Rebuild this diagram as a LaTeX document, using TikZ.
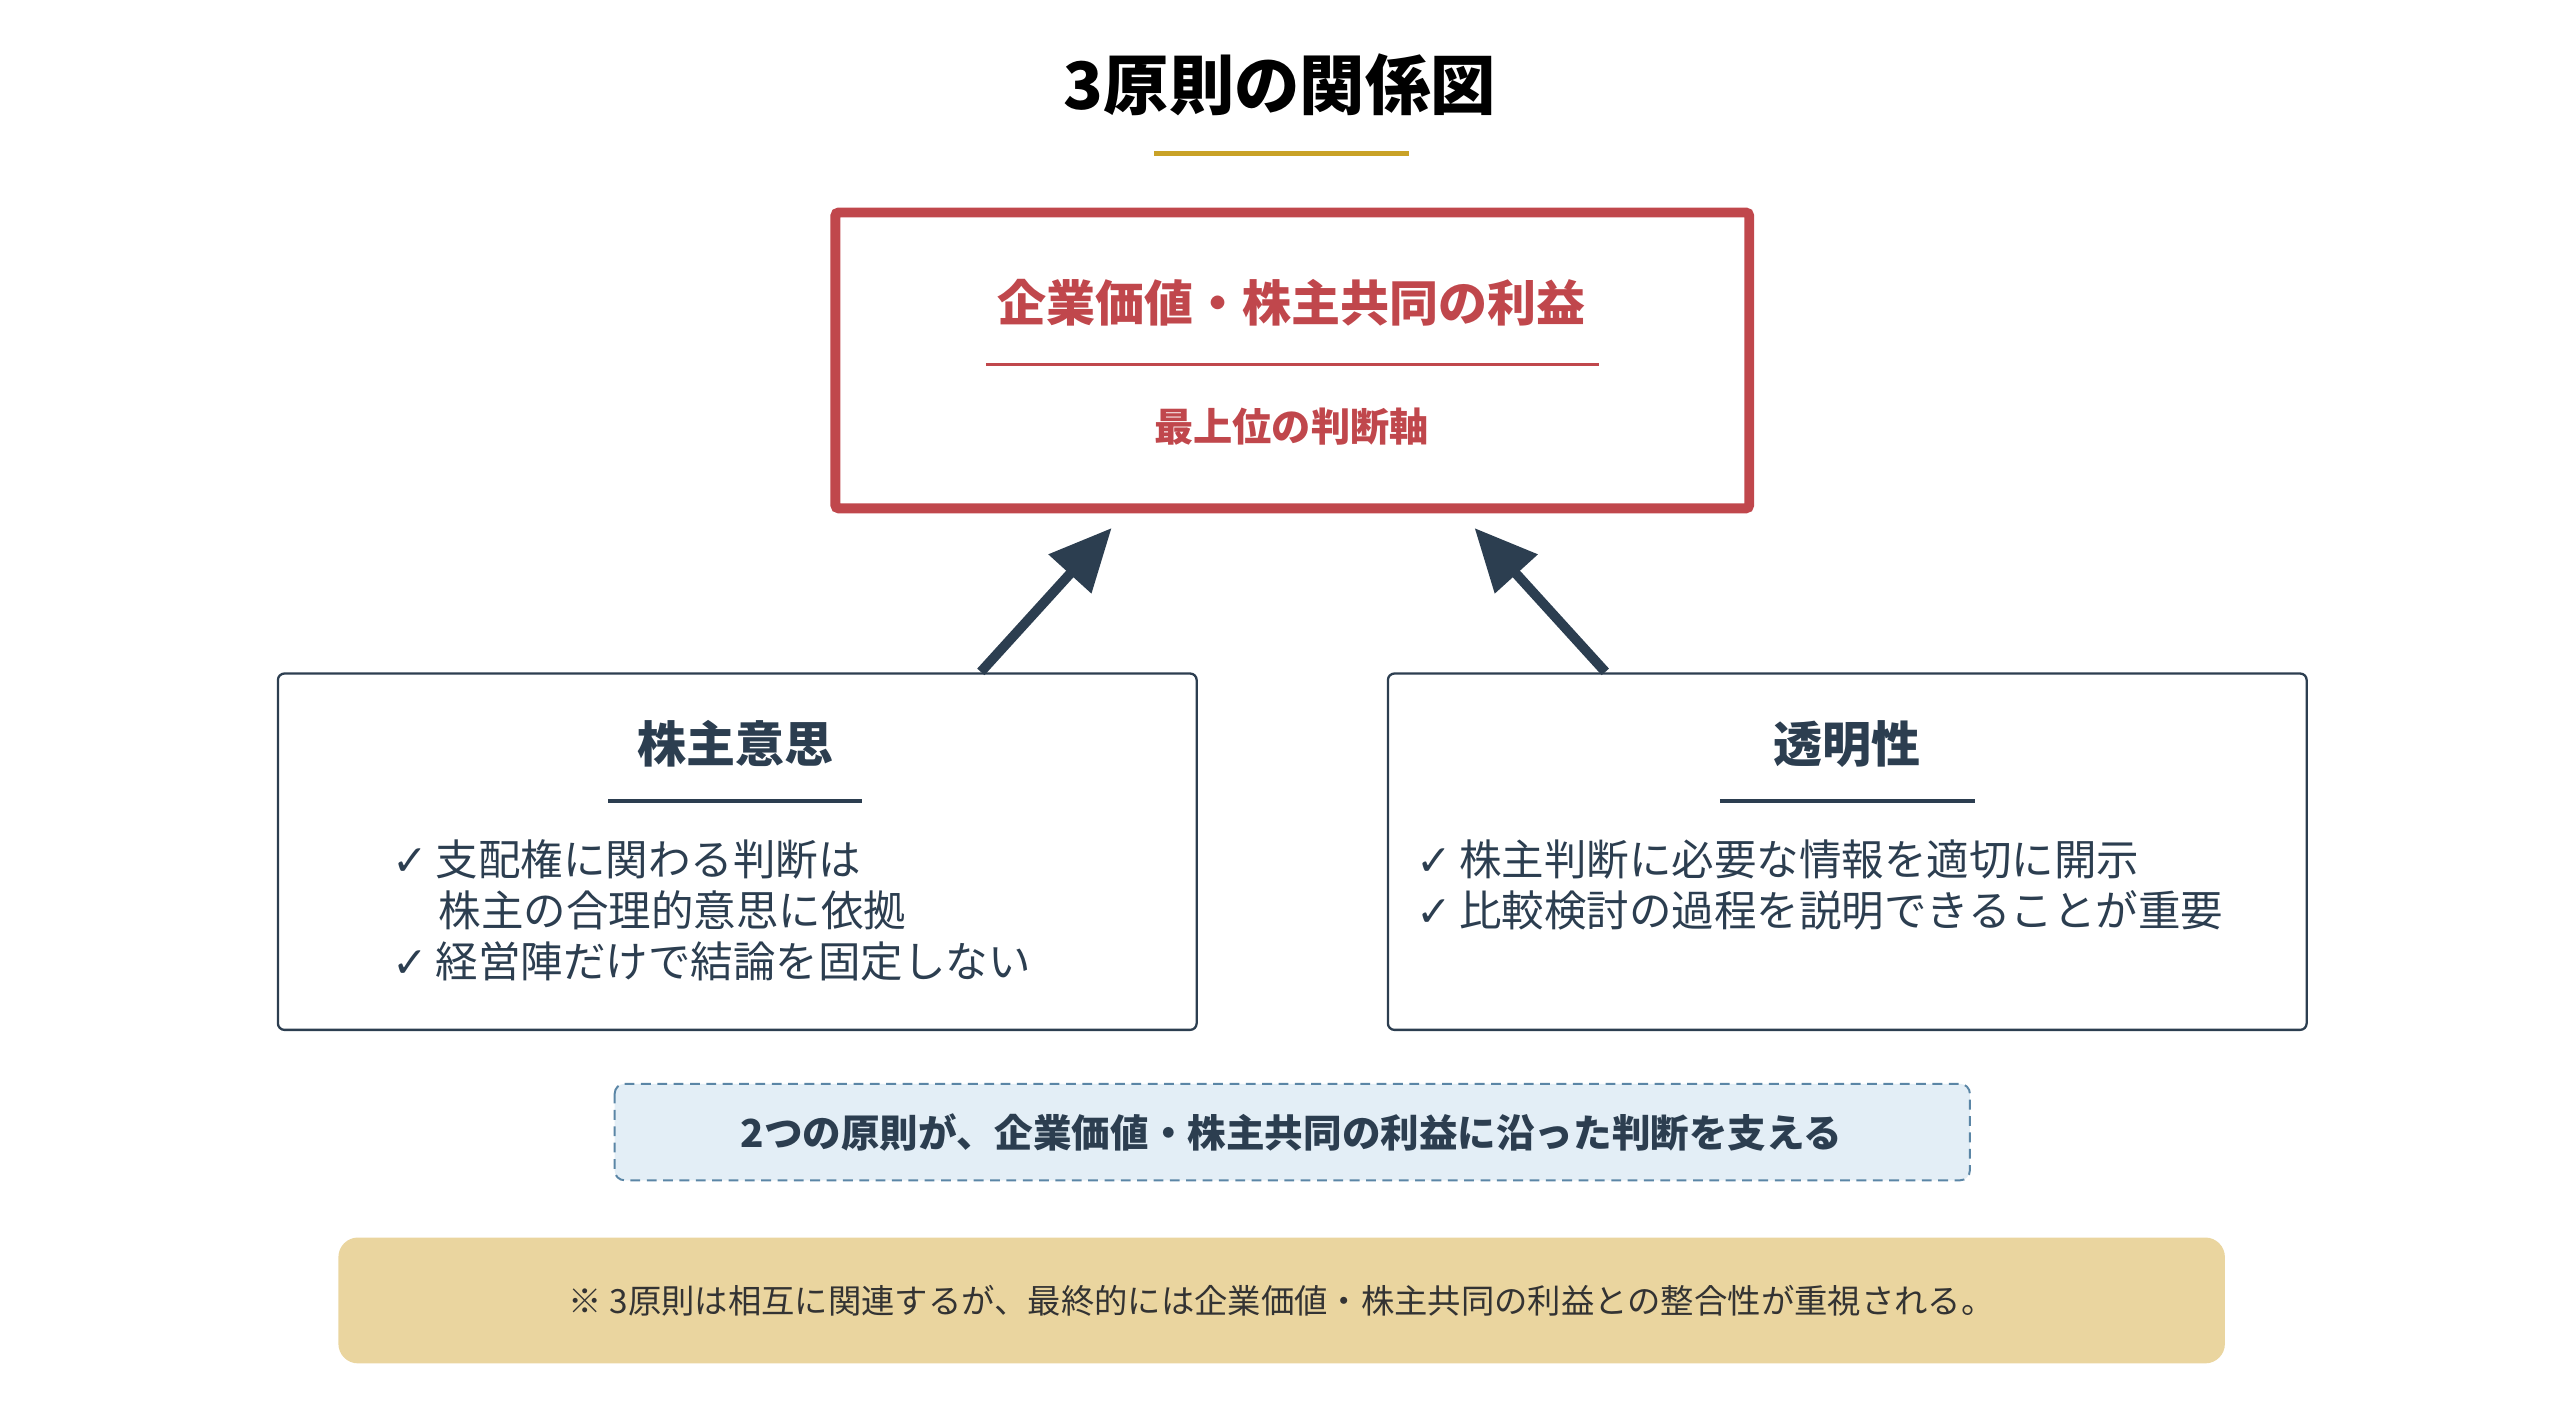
\documentclass[tikz,border=0pt]{standalone}
\usepackage{fontspec}
\setmainfont{Noto Sans CJK JP}
\newfontfamily\dvs{DejaVu Sans}
\usetikzlibrary{arrows.meta}
\definecolor{redc}{HTML}{C0474C}
\definecolor{navy}{HTML}{2C3E50}
\definecolor{goldl}{HTML}{C9A227}
\definecolor{bluef}{HTML}{E3EEF6}
\definecolor{blued}{HTML}{5B86A6}
\definecolor{goldf}{HTML}{EAD59F}
\definecolor{txt}{HTML}{333333}
\newcommand{\ck}{{\dvs\bfseries ✓}\,}
\begin{document}
\begin{tikzpicture}[x=0.5pt,y=-0.5pt,
  box/.style={draw=navy,line width=0.7pt,rounded corners=2pt},
  arr/.style={draw=navy,line width=3pt,-{Triangle[length=19pt,width=17pt]}},
  item/.style={anchor=west,font=\fontsize{13pt}{15pt}\selectfont,text=navy,inner sep=0pt}]
\useasboundingbox (0,0) rectangle (1566,860);
\node[font=\fontsize{20pt}{22pt}\selectfont\bfseries,text=black] (title) at (783,52) {3原則の関係図};
\draw[goldl,line width=1.6pt] (706,94) coordinate (g1) -- (862,94) coordinate (g2);
\draw[redc,line width=3pt,rounded corners=1pt] (511,130) rectangle (1070,311);
\node[font=\fontsize{15pt}{17pt}\selectfont\bfseries,text=redc] (tt) at (790,185) {企業価値・株主共同の利益};
\draw[redc,line width=1pt] (603,223) -- (978,223);
\node[font=\fontsize{12pt}{14pt}\selectfont\bfseries,text=redc] (ts) at (790,261) {最上位の判断軸};
\draw[box] (170,412) rectangle (732,630);
\draw[box] (849,412) rectangle (1411,630);
\coordinate (la) at (600,411);
\coordinate (lt) at (680,323);
\coordinate (ra) at (982,411);
\coordinate (rt) at (902,323);
\draw[arr] (la) -- (lt);
\draw[arr] (ra) -- (rt);
\node[font=\fontsize{15pt}{17pt}\selectfont\bfseries,text=navy] (lh) at (450,455) {株主意思};
\draw[navy,line width=1.5pt] (372,490) -- (527,490);
\node[item] (l1) at (240,526) {\ck 支配権に関わる判断は};
\node[item] (l2) at (268,557) {株主の合理的意思に依拠};
\node[item] (l3) at (240,588) {\ck 経営陣だけで結論を固定しない};
\node[font=\fontsize{15pt}{17pt}\selectfont\bfseries,text=navy] (rh) at (1130,455) {透明性};
\draw[navy,line width=1.5pt] (1052,490) -- (1208,490);
\node[item] (r1) at (866,526) {\ck 株主判断に必要な情報を適切に開示};
\node[item] (r2) at (866,557) {\ck 比較検討の過程を説明できることが重要};
\draw[fill=bluef,draw=blued,densely dashed,line width=0.6pt,rounded corners=3pt] (376,663) rectangle (1205,722);
\node[font=\fontsize{11.8pt}{13pt}\selectfont\bfseries,text=navy] (mid) at (790,693) {2つの原則が、企業価値・株主共同の利益に沿った判断を支える};
\fill[goldf,rounded corners=6pt] (207,757) rectangle (1361,834);
\node[font=\fontsize{10.2pt}{12pt}\selectfont,text=txt] (note) at (784,796) {※ 3原則は相互に関連するが、最終的には企業価値・株主共同の利益との整合性が重視される。};
\end{tikzpicture}
\end{document}
